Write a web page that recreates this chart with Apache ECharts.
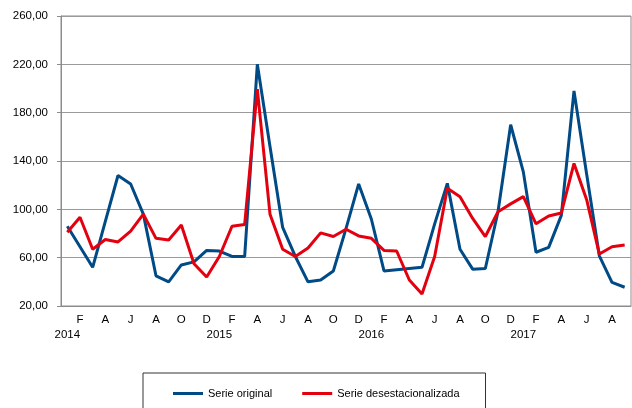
<!DOCTYPE html>
<html>
<head>
<meta charset="utf-8">
<script src="https://cdn.jsdelivr.net/npm/echarts@6/dist/echarts.min.js"></script>
<style>html,body{margin:0;padding:0;background:#fff}#c{width:632px;height:408px}</style>
</head>
<body>
<div id="c"></div>
<script>
const categories = [
 '2014-01','2014-02','2014-03','2014-04','2014-05','2014-06','2014-07','2014-08','2014-09','2014-10','2014-11','2014-12',
 '2015-01','2015-02','2015-03','2015-04','2015-05','2015-06','2015-07','2015-08','2015-09','2015-10','2015-11','2015-12',
 '2016-01','2016-02','2016-03','2016-04','2016-05','2016-06','2016-07','2016-08','2016-09','2016-10','2016-11','2016-12',
 '2017-01','2017-02','2017-03','2017-04','2017-05','2017-06','2017-07','2017-08','2017-09'
];
const tickLabels = [
 '\n2014','F','','A','','J','','A','','O','','D',
 '\n2015','F','','A','','J','','A','','O','','D',
 '\n2016','F','','A','','J','','A','','O','','D',
 '\n2017','F','','A','','J','','A','',
];
const serieOriginal = [
 86,69,52,90,128,121,96,45,40,54,56.5,66,
 65.5,61,61,220,152,85,61,40,41.5,49,84,121,
 92,49,50,51,52,88,121.5,67,50.5,51,98,170,
 131,64.5,68.5,95,198,129,61.5,39.5,35.5
];
const serieDesest = [
 81,93.4,67,75,73,82,96,76,74.6,87,55,44,
 61,86,87.5,199.5,96,67,61,68,80.5,77.5,83.5,78,
 76,66,65.5,41.5,30,61,117.5,110.5,92.5,77.5,98,104.5,
 110.5,88,94.5,97,138,108,63,69,70.5
];
const yTicks = {min: 20, max: 260, interval: 40};

const chart = echarts.init(document.getElementById('c'), null, {renderer: 'canvas'});
const font = 'Liberation Sans, Arial, sans-serif';
chart.setOption({
  animation: false,
  textStyle: {fontFamily: font},
  grid: {left: 61, right: 1, top: 16, bottom: 102, show: true, borderColor: '#8c8c8c', borderWidth: 1},
  xAxis: {
    type: 'category',
    data: categories,
    boundaryGap: true,
    axisLine: {show: true, lineStyle: {color: '#8c8c8c', width: 1}},
    axisTick: {show: false},
    axisLabel: {
      interval: 0, margin: 6, color: '#000', fontSize: 11.5, lineHeight: 15, fontFamily: font,
      formatter: (v, i) => tickLabels[i]
    },
    splitLine: {show: false}
  },
  yAxis: {
    type: 'value',
    min: yTicks.min, max: yTicks.max, interval: yTicks.interval,
    axisLine: {show: true, lineStyle: {color: '#8c8c8c', width: 1}},
    axisTick: {show: true, length: 4, inside: false, lineStyle: {color: '#8c8c8c'}},
    axisLabel: {margin: 13, color: '#000', fontSize: 11.5, fontFamily: font,
      formatter: v => v.toFixed(2).replace('.', ',')},
    splitLine: {show: true, lineStyle: {color: '#9a9a9a', width: 1}}
  },
  legend: {
    left: 143, top: 373,
    padding: [15, 26, 24, 30],
    borderColor: '#333', borderWidth: 1,
    itemGap: 30, itemWidth: 30, itemHeight: 3, icon: 'rect',
    textStyle: {fontSize: 11, color: '#000', fontFamily: font},
    data: ['Serie original', 'Serie desestacionalizada']
  },
  series: [
    {name: 'Serie original', type: 'line', data: serieOriginal, showSymbol: false, symbol: 'none',
     lineStyle: {color: '#004a86', width: 3}, itemStyle: {color: '#004a86'}},
    {name: 'Serie desestacionalizada', type: 'line', data: serieDesest, showSymbol: false, symbol: 'none',
     lineStyle: {color: '#e3000f', width: 3}, itemStyle: {color: '#e3000f'}}
  ]
});
</script>
</body>
</html>
